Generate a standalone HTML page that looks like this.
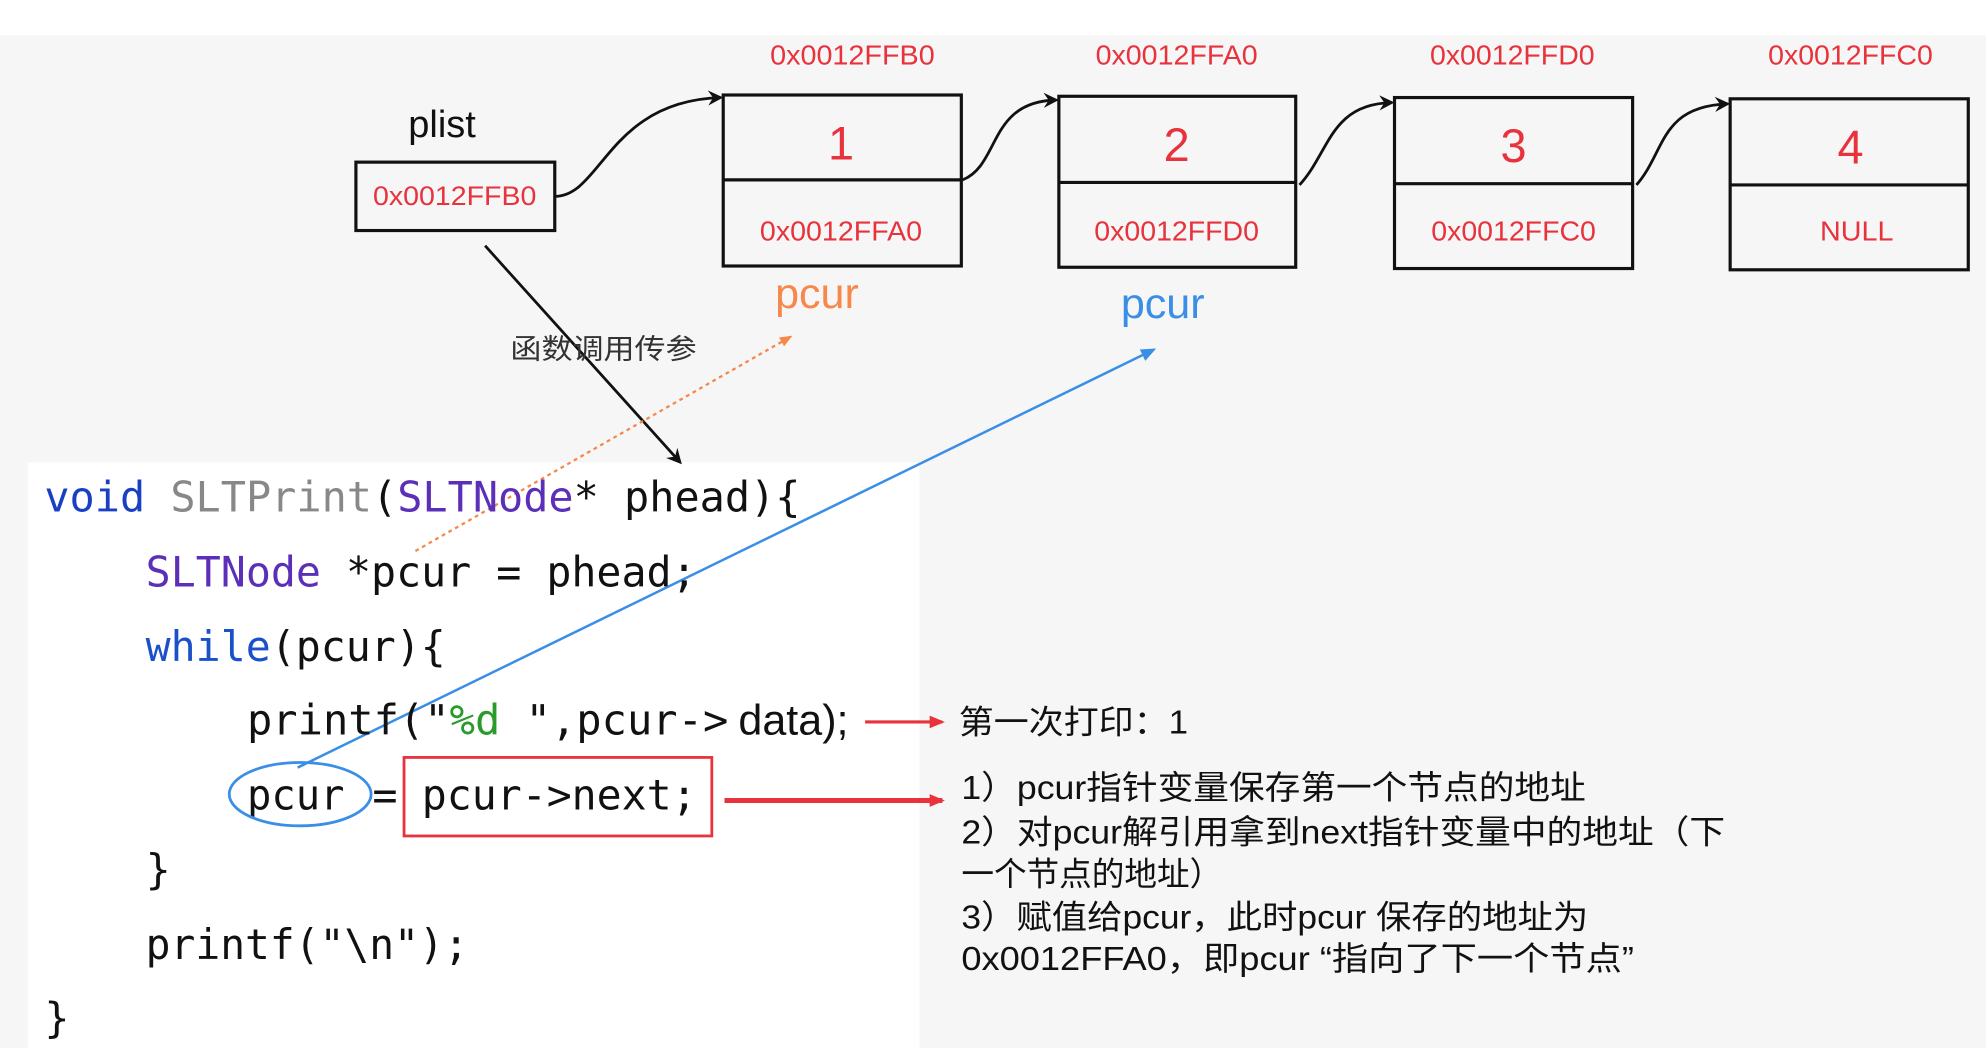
<!DOCTYPE html>
<html><head><meta charset="utf-8"><style>
html,body{margin:0;padding:0;background:#f6f6f7;}
svg{display:block;}
text{font-family:"Liberation Sans","Noto Sans CJK SC",sans-serif;}
.m{font-family:"DejaVu Sans Mono","Liberation Mono",monospace;font-size:33px;fill:#111;}
.r{fill:#e8323c;}
</style></head><body>
<svg width="1986" height="1048" viewBox="0 0 1568 827.4" xmlns="http://www.w3.org/2000/svg">
<defs>
<marker id="ab" markerWidth="12" markerHeight="12" refX="10" refY="6" orient="auto" markerUnits="userSpaceOnUse"><path d="M0,0 L12,6 L0,12 L4,6 z" fill="#111"/></marker>
<marker id="ao" markerWidth="10" markerHeight="10" refX="8" refY="5" orient="auto" markerUnits="userSpaceOnUse"><path d="M0,1 L10,5 L0,9 z" fill="#f5884a"/></marker>
<marker id="abl" markerWidth="12" markerHeight="10" refX="10" refY="5" orient="auto" markerUnits="userSpaceOnUse"><path d="M0,0 L12,5 L0,10 z" fill="#3a8ee6"/></marker>
<marker id="ar" markerWidth="12" markerHeight="10" refX="10" refY="5" orient="auto" markerUnits="userSpaceOnUse"><path d="M0,0 L12,5 L0,10 z" fill="#e8323c"/></marker>
</defs>
<rect x="0" y="0" width="1568" height="28" fill="#fff"/>
<rect x="22" y="365" width="704" height="463" fill="#fff"/>

<g class="r" font-size="22" text-anchor="middle">
<text x="673" y="51" textLength="130" lengthAdjust="spacingAndGlyphs">0x0012FFB0</text>
<text x="929" y="51" textLength="128" lengthAdjust="spacingAndGlyphs">0x0012FFA0</text>
<text x="1194" y="51" textLength="130" lengthAdjust="spacingAndGlyphs">0x0012FFD0</text>
<text x="1461" y="51" textLength="130" lengthAdjust="spacingAndGlyphs">0x0012FFC0</text>
</g>

<text x="349" y="108" font-size="30" text-anchor="middle" fill="#111">plist</text>
<rect x="281" y="128" width="157" height="54" fill="none" stroke="#111" stroke-width="2.5"/>
<text x="359" y="162" font-size="21" text-anchor="middle" class="r" textLength="129" lengthAdjust="spacingAndGlyphs">0x0012FFB0</text>

<g fill="none" stroke="#111" stroke-width="2.5">
<rect x="571" y="75" width="188" height="135"/><line x1="571" y1="142" x2="759" y2="142"/>
<rect x="836" y="76" width="187" height="135"/><line x1="836" y1="144" x2="1023" y2="144"/>
<rect x="1101" y="77" width="188" height="135"/><line x1="1101" y1="145" x2="1289" y2="145"/>
<rect x="1366" y="78" width="188" height="135"/><line x1="1366" y1="146" x2="1554" y2="146"/>
</g>
<g class="r" font-size="37" text-anchor="middle">
<text x="664" y="126">1</text><text x="929" y="127">2</text><text x="1195" y="128">3</text><text x="1461" y="129">4</text>
</g>
<g class="r" font-size="22" text-anchor="middle">
<text x="664" y="190" textLength="128" lengthAdjust="spacingAndGlyphs">0x0012FFA0</text>
<text x="929" y="190" textLength="130" lengthAdjust="spacingAndGlyphs">0x0012FFD0</text>
<text x="1195" y="190" textLength="130" lengthAdjust="spacingAndGlyphs">0x0012FFC0</text>
<text x="1466" y="190" textLength="58" lengthAdjust="spacingAndGlyphs">NULL</text>
</g>

<g fill="none" stroke="#111" stroke-width="2.2">
<path d="M438,155 C475,155 480,80 569,77" marker-end="url(#ab)"/>
<path d="M760,142 C790,130 780,80 834,79" marker-end="url(#ab)"/>
<path d="M1026,146 C1050,120 1050,82 1099,81" marker-end="url(#ab)"/>
<path d="M1292,146 C1315,120 1310,84 1364,82" marker-end="url(#ab)"/>
<line x1="383" y1="194" x2="537" y2="365" marker-end="url(#ab)"/>
</g>

<text x="645" y="243" font-size="34" text-anchor="middle" fill="#f5884a">pcur</text>
<text x="918" y="251" font-size="34" text-anchor="middle" fill="#3a8ee6">pcur</text>
<text x="403" y="283" font-size="22" fill="#333" textLength="147" lengthAdjust="spacingAndGlyphs">函数调用传参</text>

<line x1="328" y1="435" x2="624" y2="266" stroke="#f5884a" stroke-width="1.8" stroke-dasharray="3,3" marker-end="url(#ao)"/>
<line x1="235" y1="606" x2="911" y2="276" stroke="#3a8ee6" stroke-width="2" marker-end="url(#abl)"/>

<text class="m" x="35" y="404" textLength="597" lengthAdjust="spacingAndGlyphs"><tspan fill="#1a3fc4">void</tspan> <tspan fill="#888">SLTPrint</tspan>(<tspan fill="#5b2fb8">SLTNode</tspan>* phead){</text>
<text class="m" x="115" y="463" textLength="435" lengthAdjust="spacingAndGlyphs"><tspan fill="#5b2fb8">SLTNode</tspan> *pcur = phead;</text>
<text class="m" x="115" y="522" textLength="237" lengthAdjust="spacingAndGlyphs"><tspan fill="#1a50c8">while</tspan>(pcur){</text>
<text class="m" x="195" y="580" textLength="380" lengthAdjust="spacingAndGlyphs">printf("<tspan fill="#2a9a2a">%d</tspan> ",pcur-&gt;</text>
<text x="583" y="580" font-size="34" fill="#111">data);</text>
<text class="m" x="195" y="639" textLength="77" lengthAdjust="spacingAndGlyphs">pcur</text>
<text class="m" x="294" y="639">=</text>
<text class="m" x="333" y="639" textLength="217" lengthAdjust="spacingAndGlyphs">pcur-&gt;next;</text>
<text class="m" x="115" y="698">}</text>
<text class="m" x="115" y="757" textLength="255" lengthAdjust="spacingAndGlyphs">printf("\n");</text>
<text class="m" x="35" y="815">}</text>

<ellipse cx="237" cy="627" rx="56" ry="25" fill="none" stroke="#3a8ee6" stroke-width="2.2"/>
<rect x="319" y="598" width="243" height="62" fill="none" stroke="#e8323c" stroke-width="2.2"/>

<line x1="683" y1="570" x2="744" y2="570" stroke="#e8323c" stroke-width="2.5" marker-end="url(#ar)"/>
<line x1="572" y1="632" x2="744" y2="632" stroke="#e8323c" stroke-width="4" marker-end="url(#ar)"/>

<g font-size="26" fill="#111">
<text x="757" y="579" textLength="181" lengthAdjust="spacingAndGlyphs">第一次打印：1</text>
<text x="759" y="631" textLength="493" lengthAdjust="spacingAndGlyphs">1）pcur指针变量保存第一个节点的地址</text>
<text x="759" y="666" textLength="603" lengthAdjust="spacingAndGlyphs">2）对pcur解引用拿到next指针变量中的地址（下</text>
<text x="759" y="699" textLength="206" lengthAdjust="spacingAndGlyphs">一个节点的地址）</text>
<text x="759" y="733" textLength="495" lengthAdjust="spacingAndGlyphs">3）赋值给pcur，此时pcur 保存的地址为</text>
<text x="759" y="766" textLength="531" lengthAdjust="spacingAndGlyphs">0x0012FFA0，即pcur “指向了下一个节点”</text>
</g>
</svg>
</body></html>
